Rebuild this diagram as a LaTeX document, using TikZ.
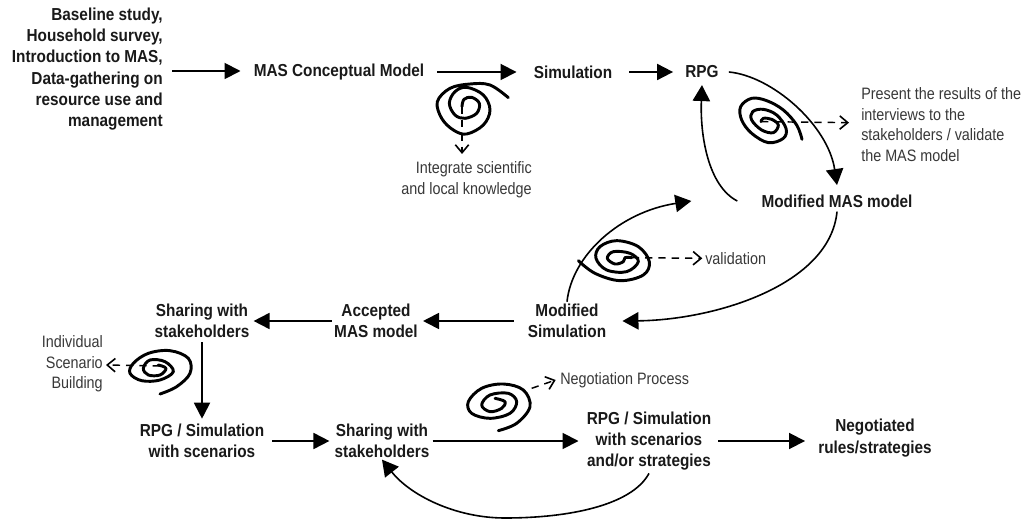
\documentclass[tikz,border=0pt]{standalone}
\usepackage{fontspec}
\setmainfont{Liberation Sans}
\newfontfamily\narrowbf[FakeStretch=0.885]{Liberation Sans Bold}
\newfontfamily\narrowrg[FakeStretch=0.87]{Liberation Sans}
\usetikzlibrary{arrows.meta}
\tikzset{
  x=0.75pt,y=-0.75pt,
  main/.style={font=\narrowbf\fontsize{13}{16}\selectfont,align=center,inner sep=0pt,text=black!90},
  note/.style={font=\narrowrg\fontsize{12.4}{15.5}\selectfont,align=center,inner sep=0pt,text=black!78},
  conn/.style={line width=1.4pt,-{Triangle[length=12pt,width=12pt]}},
  curv/.style={line width=1.2pt,-{Triangle[length=12pt,width=13pt]}},
  spiral/.style={line width=2.2pt,line join=round,line cap=round},
  dashc/.style={line width=1.1pt,dash pattern=on 5.5pt off 4.5pt,-{Straight Barb[length=6pt,width=10pt,line width=1.2pt]}},
}
\begin{document}
\begin{tikzpicture}
\useasboundingbox (0,0) rectangle (1025,520);
\node[main,align=right,anchor=east] (base) at (163,69) {Baseline study,\\Household survey,\\Introduction to MAS,\\Data-gathering on\\resource use and\\management};
\node[main] (conc) at (339,72) {MAS Conceptual Model};
\node[main] (sim) at (573,72) {Simulation};
\node[main] (rpg) at (702,72) {RPG};
\node[main] (mod) at (837,201) {Modified MAS model};
\node[main] (msim) at (567,321) {Modified\\Simulation};
\node[main] (acc) at (376,321) {Accepted\\MAS model};
\node[main] (sh1) at (202,321) {Sharing with\\stakeholders};
\node[main] (rs1) at (202,441) {RPG / Simulation\\with scenarios};
\node[main] (sh2) at (382,441) {Sharing with\\stakeholders};
\node[main] (rs3) at (649,441) {RPG / Simulation\\with scenarios\\and/or strategies};
\node[main] (neg) at (875,438) {Negotiated\\rules/strategies};
\node[note,align=right,anchor=east] (n1) at (532,179.5) {Integrate scientific\\and local knowledge};
\node[note,align=left,anchor=west] (n2) at (861,124.5) {Present the results of the\\interviews to the\\stakeholders / validate\\the MAS model};
\node[note,anchor=west] (n3) at (705,259) {validation};
\node[note,align=right,anchor=east] (n4) at (103,364) {Individual\\Scenario\\Building};
\node[note,anchor=west] (n5) at (560,380) {Negotiation Process};
% straight connectors
\draw[conn] ([xshift=6.75pt,yshift=-1.5pt]base.east) -- ([xshift=-9.75pt,yshift=0.75pt]conc.west);
\draw[conn] ([xshift=9.75pt]conc.east) -- ([xshift=-12.75pt]sim.west);
\draw[conn] ([xshift=12.75pt]sim.east) -- ([xshift=-9pt]rpg.west);
\draw[conn] ([xshift=-10.5pt]msim.west) -- ([xshift=3.75pt]acc.east);
\draw[conn] ([xshift=-1.5pt]acc.west) -- ([xshift=3pt]sh1.east);
\draw[conn] ([yshift=-3pt]sh1.south) -- ([yshift=3.75pt]rs1.north);
\draw[conn] ([xshift=6pt]rs1.east) -- ([xshift=-3.75pt]sh2.west);
\draw[conn] ([xshift=2.25pt]sh2.east) -- ([xshift=-6pt]rs3.west);
\draw[conn] ([xshift=5.25pt]rs3.east) -- ([xshift=-9.75pt]neg.west |- rs3.east);
% curved connectors
\draw[curv] ([xshift=7.5pt]rpg.east) .. controls (772,76) and (828,125) .. ([yshift=7pt]mod.north);
\draw[curv] ([xshift=-18pt]mod.west) .. controls (708,186) and (700,135) .. ([yshift=-5pt]rpg.south);
\draw[curv] ([yshift=1.5pt]msim.north) .. controls (572,255) and (620,212) .. ([xshift=-52.5pt]mod.west);
\draw[curv] ([yshift=-3pt]mod.south) .. controls (830,285) and (715,320) .. ([xshift=12pt]msim.east);
\draw[curv] ([yshift=-2pt]rs3.south) .. controls (632,505) and (570,518) .. (505,518) .. controls (455,518) and (410,495) .. ([yshift=-1pt]sh2.south);
% spirals
\begin{scope}[shift={(400,60)},scale=1/3]
\draw[spiral] plot[smooth,tension=.6] coordinates {(325,113) (270,75) (210,72) (150,85) (112,125) (125,175) (160,210) (200,222) (250,195) (270,150) (250,105) (200,82) (165,95) (148,130) (165,165) (195,175) (230,160) (238,130) (215,112) (192,118) (186,140)};
\coordinate (d1a) at (186,140); \coordinate (d1b) at (186,282);
\end{scope}
\draw[dashc] (d1a) -- (d1b);
\begin{scope}[shift={(700,80)},scale=1/3]
\draw[spiral] plot[smooth,tension=.6] coordinates {(306,178) (290,135) (250,90) (200,62) (155,55) (122,80) (125,120) (155,160) (205,188) (250,175) (258,145) (230,105) (190,88) (158,95) (155,120) (185,150) (220,158) (235,135) (215,118) (190,115) (183,125)};
\coordinate (d2a) at (183,125); \coordinate (d2b) at (447,128);
\end{scope}
\draw[dashc] (d2a) -- (d2b);
\begin{scope}[shift={(570,220)},scale=1/3]
\draw[spiral] plot[smooth,tension=.6] coordinates {(25,122) (75,160) (150,182) (220,165) (238,125) (205,80) (140,62) (90,80) (78,115) (110,150) (170,155) (205,125) (180,100) (130,95) (112,115) (135,132) (160,125) (165,113) (185,113)};
\coordinate (d3a) at (185,113); \coordinate (d3b) at (397,115);
\end{scope}
\draw[dashc] (d3a) -- (d3b);
\begin{scope}[shift={(80,330)},scale=1/3]
\draw[spiral] plot[smooth,tension=.6] coordinates {(240,192) (290,170) (330,130) (325,85) (270,62) (205,70) (160,100) (150,130) (185,152) (240,150) (280,125) (255,95) (210,90) (190,115) (205,135) (240,135) (258,115) (235,105)};
\coordinate (d4a) at (240,108); \coordinate (d4b) at (78,105);
\end{scope}
\draw[dashc] (d4a) -- (d4b);
\begin{scope}[shift={(450,360)},scale=1/3]
\draw[spiral] plot[smooth,tension=.6] coordinates {(145,212) (200,190) (240,140) (220,90) (160,72) (95,85) (55,125) (65,160) (120,175) (180,160) (200,125) (175,100) (120,105) (95,135) (120,155) (155,145) (165,125) (135,115)};
\coordinate (d5a) at (245,85); \coordinate (d5b) at (317,60);
\end{scope}
\draw[dashc] (d5a) -- (d5b);
\end{tikzpicture}
\end{document}
